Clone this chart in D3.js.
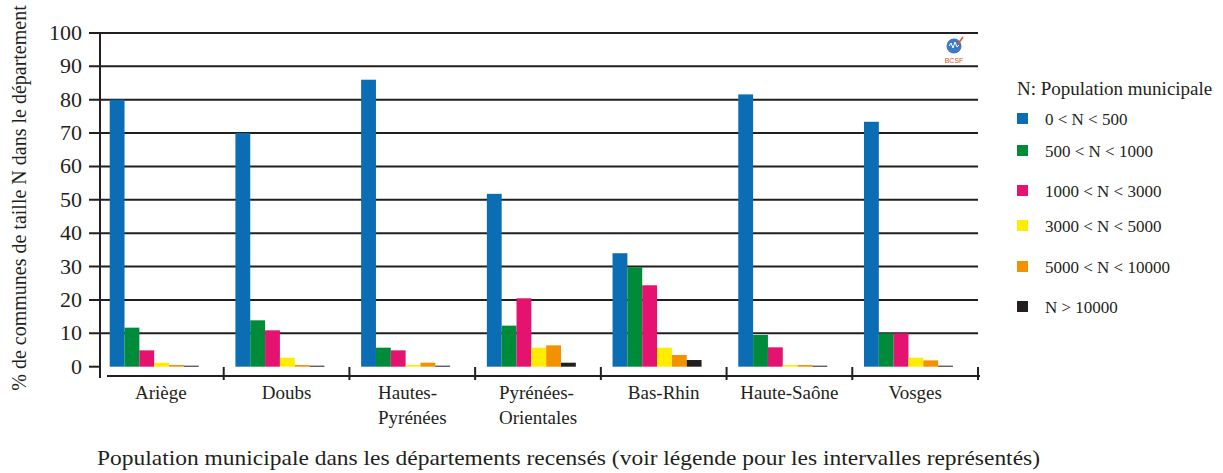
<!DOCTYPE html>
<html>
<head>
<meta charset="utf-8">
<script src="https://cdn.jsdelivr.net/npm/d3@7"></script>
</head>
<body style="margin:0; background:#fff">
<div class="chart"></div>
<script>
// data
const departements = ["Ariège", "Doubs", "Hautes-\nPyrénées", "Pyrénées-\nOrientales", "Bas-Rhin", "Haute-Saône", "Vosges"];
const classes = ["0 < N < 500", "500 < N < 1000", "1000 < N < 3000", "3000 < N < 5000", "5000 < N < 10000", "N > 10000"];
const n0_500 = [80, 70, 86, 51.8, 34, 81.6, 73.4];
const n500_1000 = [11.7, 13.9, 5.7, 12.3, 29.8, 9.5, 10];
const n1000_3000 = [4.9, 10.9, 4.9, 20.5, 24.4, 5.8, 10];
const n3000_5000 = [1.2, 2.7, 0.5, 5.7, 5.7, 0.5, 2.7];
const n5000_10000 = [0.5, 0.5, 1.2, 6.4, 3.5, 0.5, 1.9];
const n10000 = [0.3, 0.3, 0.3, 1.2, 2.0, 0.3, 0.3];
const yTicks = [0, 10, 20, 30, 40, 50, 60, 70, 80, 90, 100];
const colors = ["#0b6eb4", "#008b3a", "#e3136f", "#ffed00", "#f39200", "#231f20"];

const series = [n0_500, n500_1000, n1000_3000, n3000_5000, n5000_10000, n10000];

const svgWidth = 1223;
const svgHeight = 473;
const serif = "Liberation Serif";
const ink = "#231f20";

const svg = d3.select(".chart")
  .append("svg")
  .attr("width", svgWidth)
  .attr("height", svgHeight);

// scales
const xScale = d3.scaleBand()
  .domain(departements)
  .range([98, 978]);

const xInner = d3.scaleBand()
  .domain(d3.range(classes.length))
  .range([11.7, 11.7 + 89]);

const yScale = d3.scaleLinear()
  .domain([0, 100])
  .range([366.7, 33]);

// gridlines (0 is only a tick)
svg.append("g")
  .selectAll("line")
  .data(yTicks)
  .enter()
  .append("line")
  .attr("x1", 89)
  .attr("x2", d => d === 0 ? 100 : 978)
  .attr("y1", d => yScale(d))
  .attr("y2", d => yScale(d))
  .attr("stroke", ink)
  .attr("stroke-width", 2);

// y tick labels
svg.append("g")
  .selectAll("text")
  .data(yTicks)
  .enter()
  .append("text")
  .attr("x", 82)
  .attr("y", d => yScale(d) + 7)
  .attr("text-anchor", "end")
  .attr("font-family", serif)
  .attr("font-size", 22)
  .attr("fill", ink)
  .text(d => d);

// y axis line
svg.append("line")
  .attr("x1", 100).attr("x2", 100)
  .attr("y1", yScale(100) - 1).attr("y2", 378)
  .attr("stroke", ink)
  .attr("stroke-width", 2);

// x axis line and boundary ticks
svg.append("line")
  .attr("x1", 107).attr("x2", 980)
  .attr("y1", 376).attr("y2", 376)
  .attr("stroke", ink)
  .attr("stroke-width", 2);

svg.append("g")
  .selectAll("line")
  .data(departements.slice(1).concat(["end"]))
  .enter()
  .append("line")
  .attr("x1", d => d === "end" ? 978 : xScale(d))
  .attr("x2", d => d === "end" ? 978 : xScale(d))
  .attr("y1", 367)
  .attr("y2", 380)
  .attr("stroke", ink)
  .attr("stroke-width", 2);

// bars
const groups = svg.append("g")
  .selectAll("g")
  .data(departements)
  .enter()
  .append("g")
  .attr("transform", d => `translate(${xScale(d)},0)`);

groups.selectAll("rect")
  .data((d, i) => series.map((s, k) => ({ k: k, v: s[i] })))
  .enter()
  .append("rect")
  .attr("x", d => xInner(d.k))
  .attr("width", xInner.bandwidth())
  .attr("y", d => yScale(d.v))
  .attr("height", d => yScale(0) - yScale(d.v))
  .attr("fill", d => colors[d.k]);

// category labels: one line centred, two lines left-aligned as a centred block
const catLabels = svg.append("g")
  .selectAll("text")
  .data(departements)
  .enter()
  .append("text")
  .attr("y", 399)
  .attr("font-family", serif)
  .attr("font-size", 19)
  .attr("fill", ink);

catLabels.each(function(d) {
  const lines = d.split("\n");
  const label = d3.select(this);
  const spans = label.selectAll("tspan")
    .data(lines)
    .enter()
    .append("tspan")
    .attr("dy", (l, j) => j === 0 ? 0 : 25)
    .text(l => l);
  const widest = d3.max(spans.nodes(), n => n.getComputedTextLength());
  const left = xScale(d) + xScale.bandwidth() / 2 - widest / 2;
  spans.attr("x", left);
});

// y axis title
svg.append("text")
  .attr("transform", "translate(26,198) rotate(-90)")
  .attr("text-anchor", "middle")
  .attr("font-family", serif)
  .attr("font-size", 20)
  .attr("fill", ink)
  .text("% de communes de taille N dans le département");

// x axis title
svg.append("text")
  .attr("x", 97)
  .attr("y", 465)
  .attr("textLength", 943)
  .attr("lengthAdjust", "spacingAndGlyphs")
  .attr("font-family", serif)
  .attr("font-size", 21)
  .attr("fill", ink)
  .text("Population municipale dans les départements recensés (voir légende pour les intervalles représentés)");

// legend
svg.append("text")
  .attr("x", 1017)
  .attr("y", 95)
  .attr("font-family", serif)
  .attr("font-size", 19)
  .attr("fill", ink)
  .text("N: Population municipale");

const legendY = [119, 151, 191, 226, 267, 307];
const legend = svg.append("g")
  .selectAll("g")
  .data(classes)
  .enter()
  .append("g")
  .attr("transform", (d, i) => `translate(1017,${legendY[i]})`);

legend.append("rect")
  .attr("x", 0)
  .attr("y", -6)
  .attr("width", 11)
  .attr("height", 11)
  .attr("fill", (d, i) => colors[i]);

legend.append("text")
  .attr("x", 28)
  .attr("y", 6)
  .attr("font-family", serif)
  .attr("font-size", 17)
  .attr("fill", ink)
  .text(d => d);

// small BCSF logo
const logo = svg.append("g").attr("transform", "translate(954,46)");
logo.append("circle")
  .attr("r", 7.5)
  .attr("fill", "#3f79c4");
logo.append("path")
  .attr("d", "M-5,0 L-3,-3 L-1,2 L1,-4 L3,1 L5,-1")
  .attr("fill", "none")
  .attr("stroke", "#fff")
  .attr("stroke-width", 1);
logo.append("line")
  .attr("x1", 4).attr("y1", -2).attr("x2", 9).attr("y2", -9)
  .attr("stroke", "#e0502a")
  .attr("stroke-width", 1.5);
logo.append("text")
  .attr("x", 0)
  .attr("y", 17)
  .attr("text-anchor", "middle")
  .attr("font-size", 7)
  .attr("font-family", "Liberation Sans")
  .attr("fill", "#e0502a")
  .text("BCSF");
</script>
</body>
</html>
